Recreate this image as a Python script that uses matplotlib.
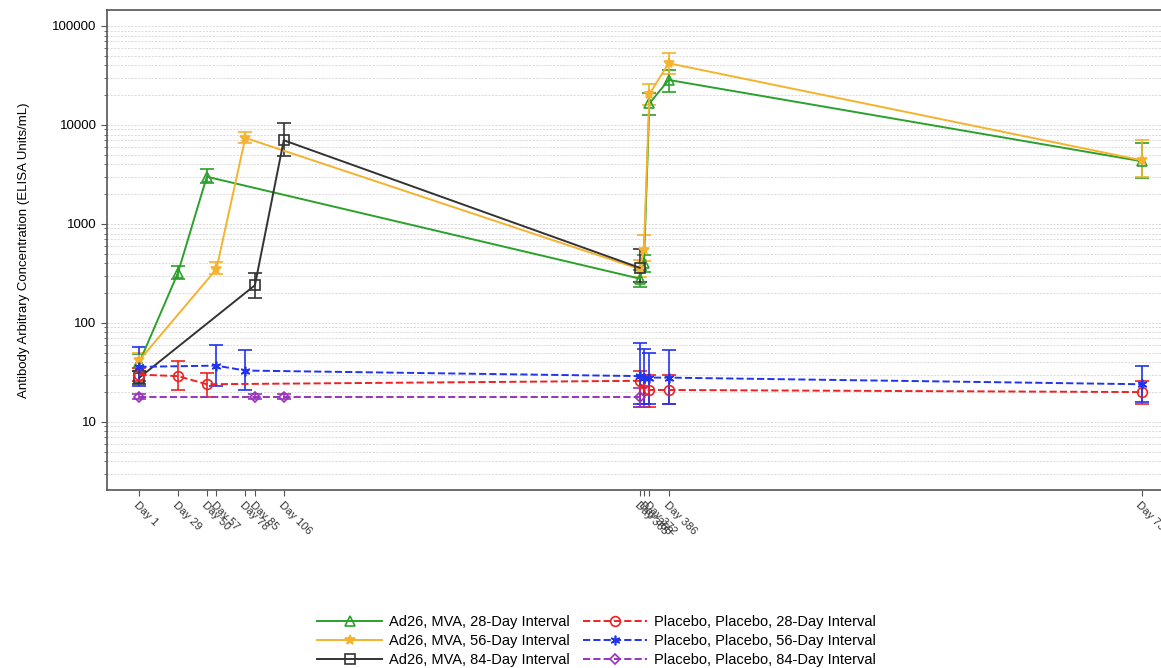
import numpy as np
import matplotlib.pyplot as plt
from matplotlib.lines import Line2D
from matplotlib.ticker import FixedLocator, LogLocator, NullFormatter

plt.rcParams['font.family'] = ['Liberation Sans', 'DejaVu Sans']

tick_days = [1, 29, 50, 57, 78, 85, 106, 365, 368, 372, 386, 730]
tick_labels = ['Day %d' % d for d in tick_days]

# active groups
g28_days = [1, 29, 50, 365, 368, 372, 386, 730]
g28_vals = [40, 320, 3000, 280, 400, 16500, 28500, 4300]
g28_lo = [33, 280, 2600, 230, 330, 12500, 21500, 2900]
g28_hi = [48, 380, 3600, 340, 480, 21000, 36000, 6500]

g56_days = [1, 57, 78, 365, 368, 372, 386, 730]
g56_vals = [42, 350, 7400, 350, 550, 20500, 42000, 4400]
g56_lo = [35, 310, 6500, 290, 420, 16000, 33000, 3000]
g56_hi = [50, 410, 8500, 430, 780, 26000, 53000, 7000]

g84_days = [1, 85, 106, 365]
g84_vals = [28, 240, 7000, 360]
g84_lo = [24, 180, 4800, 260]
g84_hi = [33, 320, 10500, 560]

# placebo groups
p28_days = [1, 29, 50, 365, 368, 372, 386, 730]
p28_vals = [30, 29, 24, 26, 21, 21, 21, 20]
p28_lo = [26, 21, 18, 14, 14, 14, 15, 15]
p28_hi = [35, 41, 31, 33, 30, 30, 30, 26]

p56_days = [1, 57, 78, 365, 368, 372, 386, 730]
p56_vals = [36, 37, 33, 29, 28, 28, 28, 24]
p56_lo = [23, 23, 21, 15, 15, 15, 15, 16]
p56_hi = [57, 60, 53, 62, 55, 50, 53, 37]

p84_days = [1, 85, 106, 365]
p84_vals = [18, 18, 18, 18]
p84_lo = [17, 17, 17, 14]
p84_hi = [19, 19, 19, 22]

series = [
    ('Ad26, MVA, 28-Day Interval', g28_days, g28_vals, g28_lo, g28_hi, '#2ca02c', '-', '^', 'none'),
    ('Ad26, MVA, 56-Day Interval', g56_days, g56_vals, g56_lo, g56_hi, '#f5b22c', '-', '*', '#f5b22c'),
    ('Ad26, MVA, 84-Day Interval', g84_days, g84_vals, g84_lo, g84_hi, '#333333', '-', 's', 'none'),
    ('Placebo, Placebo, 28-Day Interval', p28_days, p28_vals, p28_lo, p28_hi, '#ee2222', '--', 'o', 'none'),
    ('Placebo, Placebo, 56-Day Interval', p56_days, p56_vals, p56_lo, p56_hi, '#2233ee', '--', (6, 2, 0), 'none'),
    ('Placebo, Placebo, 84-Day Interval', p84_days, p84_vals, p84_lo, p84_hi, '#9933bb', '--', 'D', 'none'),
]

fig = plt.figure(figsize=(11.61, 6.68), dpi=100)
ax = fig.add_axes([107 / 1161, 1 - 490 / 668, 1073 / 1161, 480 / 668])

handles = []
for name, d, v, lo, hi, c, ls, mk, fc in series:
    v = np.array(v, dtype=float)
    yerr = [v - np.array(lo), np.array(hi) - v]
    ms = 5 if mk == 'D' else 7
    ax.errorbar(d, v, yerr=yerr, color=c, linestyle=ls, linewidth=1.4,
                marker=mk, markersize=ms, markerfacecolor=fc,
                markeredgecolor=c, markeredgewidth=1.2, capsize=5,
                elinewidth=1.2)
    handles.append(Line2D([], [], color=c, linestyle=ls, linewidth=1.4, marker=mk,
                          markersize=ms, markerfacecolor=fc, markeredgecolor=c,
                          markeredgewidth=1.2, label=name))

ax.set_yscale('log')
ax.set_ylim(2.05, 145000)
ax.set_xlim(-22.6, 758)

ax.yaxis.set_major_locator(FixedLocator([10, 100, 1000, 10000, 100000]))
ax.set_yticklabels(['10', '100', '1000', '10000', '100000'])
ax.yaxis.set_minor_locator(LogLocator(base=10, subs=np.arange(2, 10)))
ax.yaxis.set_minor_formatter(NullFormatter())
ax.grid(which='both', axis='y', color='#d9d9d9', linestyle=(0, (2, 1.5)), linewidth=0.7)
ax.set_axisbelow(True)

ax.set_xticks(tick_days)
ax.set_xticklabels(tick_labels, rotation=-45, ha='left', va='top',
                   rotation_mode='anchor', fontsize=8, color='#333333')
ax.tick_params(axis='y', which='major', labelsize=9.5, length=4, color='#555555')
ax.tick_params(axis='y', which='minor', length=2, color='#555555')
ax.tick_params(axis='x', length=4, color='#555555')
for s in ax.spines.values():
    s.set_color('#555555')
    s.set_linewidth(1.2)

ax.set_ylabel('Antibody Arbitrary Concentration (ELISA Units/mL)', fontsize=9.5)
ax.yaxis.set_label_coords(-0.072, 0.5)

fig.legend(handles=handles, loc='center', bbox_to_anchor=(0.514, 0.0404), ncol=2,
           frameon=False, fontsize=10.5, handlelength=4.4, columnspacing=0.9,
           labelspacing=0.35, handletextpad=0.5, borderpad=0)

fig.savefig('out.png', dpi=100)
